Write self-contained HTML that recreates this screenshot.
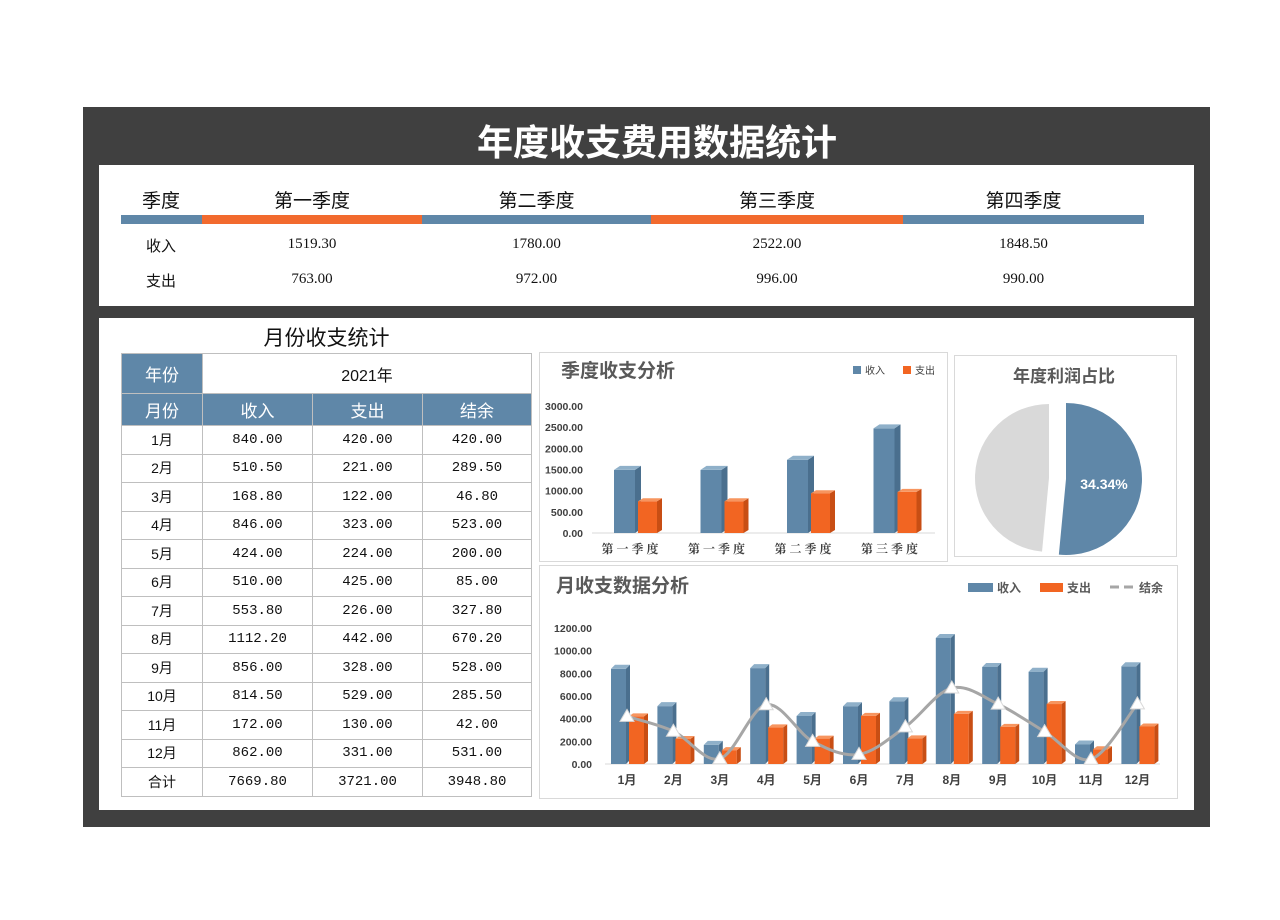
<!DOCTYPE html>
<html><head><meta charset="utf-8"><style>
body{margin:0;background:#fff;width:1280px;height:920px;position:relative;overflow:hidden;font-family:"Liberation Sans","Noto Sans CJK SC",sans-serif}
.a{position:absolute}
.c{position:absolute;text-align:center;font-family:"Liberation Serif","Noto Serif CJK SC",serif;font-size:15px;color:#111}
.tb{position:absolute;border-collapse:collapse;left:121px;top:353px;width:411px}
.tb td{border:1px solid #bfbfbf;text-align:center;font-family:"Liberation Mono","Noto Sans CJK SC",monospace;font-size:14px;height:27.5px;padding:0;color:#111}
.tb td.h{background:#5f87a8;color:#fff;font-family:"Liberation Sans","Noto Sans CJK SC",sans-serif;font-size:17px}
.tb td.m{font-family:"Liberation Sans","Noto Sans CJK SC",sans-serif}
</style></head><body>
<div class="a" style="left:83px;top:107px;width:1127px;height:720px;background:#404040"></div>
<div class="a" style="left:83px;top:114px;width:1148px;text-align:center;color:#fff;font-size:36px;font-weight:bold;font-family:'Noto Sans CJK SC',sans-serif;line-height:52px">年度收支费用数据统计</div>
<div class="a" style="left:99px;top:165px;width:1095px;height:141px;background:#fff"></div>
<div class="a" style="left:99px;top:318px;width:1095px;height:492px;background:#fff"></div>
<div>
<div class="c" style="left:120px;top:186px;width:82px;font-size:19px;font-family:'Noto Sans CJK SC',sans-serif">季度</div>
<div class="c" style="left:202px;top:186px;width:220px;font-size:19px;font-family:'Noto Sans CJK SC',sans-serif">第一季度</div>
<div class="c" style="left:422px;top:186px;width:229px;font-size:19px;font-family:'Noto Sans CJK SC',sans-serif">第二季度</div>
<div class="c" style="left:651px;top:186px;width:252px;font-size:19px;font-family:'Noto Sans CJK SC',sans-serif">第三季度</div>
<div class="c" style="left:903px;top:186px;width:241px;font-size:19px;font-family:'Noto Sans CJK SC',sans-serif">第四季度</div>
</div>
<div class="a" style="left:121px;top:215px;width:81px;height:9px;background:#5f87a8"></div>
<div class="a" style="left:202px;top:215px;width:220px;height:9px;background:#f26a2e"></div>
<div class="a" style="left:422px;top:215px;width:229px;height:9px;background:#5f87a8"></div>
<div class="a" style="left:651px;top:215px;width:252px;height:9px;background:#f26a2e"></div>
<div class="a" style="left:903px;top:215px;width:241px;height:9px;background:#5f87a8"></div>
<div class="c" style="left:120px;top:235px;width:82px;font-family:'Noto Sans CJK SC',sans-serif">收入</div>
<div class="c" style="left:202px;top:236px;width:220px">1519.30</div>
<div class="c" style="left:422px;top:236px;width:229px">1780.00</div>
<div class="c" style="left:651px;top:236px;width:252px">2522.00</div>
<div class="c" style="left:903px;top:236px;width:241px">1848.50</div>
<div class="c" style="left:120px;top:270px;width:82px;font-family:'Noto Sans CJK SC',sans-serif">支出</div>
<div class="c" style="left:202px;top:271px;width:220px">763.00</div>
<div class="c" style="left:422px;top:271px;width:229px">972.00</div>
<div class="c" style="left:651px;top:271px;width:252px">996.00</div>
<div class="c" style="left:903px;top:271px;width:241px">990.00</div>

<div class="a" style="left:121px;top:322px;width:411px;text-align:center;font-size:21px;font-family:'Noto Sans CJK SC',sans-serif;color:#111">月份收支统计</div>
<table class="tb">
<tr style="height:40px"><td class="h" style="width:80px;height:39px">年份</td><td colspan="3" class="m" style="font-size:16px">2021年</td></tr>
<tr><td class="h" style="height:31px">月份</td><td class="h" style="width:109px">收入</td><td class="h" style="width:109px">支出</td><td class="h">结余</td></tr>
<tbody id="tbody"></tbody>
</table>

<div class="a" style="left:539px;top:352px;width:407px;height:208px;border:1px solid #d9d9d9"></div>
<div class="a" style="left:954px;top:355px;width:221px;height:200px;border:1px solid #d9d9d9"></div>
<div class="a" style="left:539px;top:565px;width:637px;height:232px;border:1px solid #d9d9d9"></div>
<svg class="a" style="left:0;top:0" width="1280" height="920" id="svg"></svg>
<script>
const months=['1月','2月','3月','4月','5月','6月','7月','8月','9月','10月','11月','12月'];
const monthIncome=[840,510.5,168.8,846,424,510,553.8,1112.2,856,814.5,172,862];
const monthExpense=[420,221,122,323,224,425,226,442,328,529,130,331];
const monthBalance=[420,289.5,46.8,523,200,85,327.8,670.2,528,285.5,42,531];
const totals=['7669.80','3721.00','3948.80'];
const qCats=['第一季度','第一季度','第二季度','第三季度'];
const qIncome=[1490,1490,1730,2470];
const qExpense=[750,750,940,970];
const qTicks=[0,500,1000,1500,2000,2500,3000];
const mTicks=[0,200,400,600,800,1000,1200];
const pieShares=[0.515,0.485];
const pieLabel='34.34%';

const tb=document.getElementById('tbody');
function f(v){return v.toFixed(2);}
months.forEach((m,i)=>{const tr=document.createElement('tr');


tr.innerHTML='<td class="m">'+m+'</td><td>'+f(monthIncome[i])+'</td><td>'+f(monthExpense[i])+'</td><td>'+f(monthBalance[i])+'</td>';tb.appendChild(tr);});
const tr=document.createElement('tr');


tr.innerHTML='<td class="m">合计</td><td>'+totals[0]+'</td><td>'+totals[1]+'</td><td>'+totals[2]+'</td>';tb.appendChild(tr);

const svg=document.getElementById('svg');const NS='http://www.w3.org/2000/svg';
function el(t,a,p){const e=document.createElementNS(NS,t);for(const k in a)e.setAttribute(k,a[k]);(p||svg).appendChild(e);return e;}
function txt(x,y,s,a){const e=el('text',Object.assign({x:x,y:y,'font-family':'Liberation Sans, Noto Sans CJK SC, sans-serif'},a));e.textContent=s;return e;}
const BL=['#5f87a8','#4a6f8e','#8fb0c9'],OR=['#f26522','#c84e14','#f7955f'];
function bar3d(x,w,y0,y1,c,dx,dy,name){const g=el('g',{});


el('rect',{x:x,y:y1,width:w,height:Math.max(0,y0-y1),fill:c[0]},g);
el('polygon',{points:`${x+w},${y1} ${x+w+dx},${y1+dy} ${x+w+dx},${y0+dy} ${x+w},${y0}`,fill:c[1]},g);
el('polygon',{points:`${x},${y1} ${x+dx},${y1+dy} ${x+w+dx},${y1+dy} ${x+w},${y1}`,fill:c[2]},g);}

// quarterly chart
(function(){const y0=533,y1=406,max=3000;const Y=v=>y0-(v/max)*(y0-y1);const X=i=>630+i*86.5;
const t=txt(561,377,'季度收支分析',{'font-size':19,'font-weight':'bold',fill:'#595959'});


el('rect',{x:853,y:366,width:8,height:8,fill:BL[0]});
txt(865,374,'收入',{'font-size':10,fill:'#404040'});
el('rect',{x:903,y:366,width:8,height:8,fill:OR[0]});
txt(915,374,'支出',{'font-size':10,fill:'#404040'});
qTicks.forEach(v=>{const l=txt(583,Y(v)+4,v.toFixed(2),{'font-size':10.5,'font-weight':'bold',fill:'#404040','text-anchor':'end'});

});
el('line',{x1:592,x2:935,y1:y0,y2:y0,stroke:'#d9d9d9'});
qCats.forEach((c,i)=>{const x=X(i);
bar3d(x-16,21,y0,Y(qIncome[i]),BL,6,-4,'quarter-income-bar');
bar3d(x+8,19,y0,Y(qExpense[i]),OR,5,-3,'quarter-expense-bar');
const l=txt(x,553,c.split('').join(' '),{'font-size':12,'font-weight':'bold',fill:'#404040','text-anchor':'middle','font-family':'Noto Serif CJK SC, serif'});

});})();

// pie
(function(){const t=txt(1064,382,'年度利润占比',{'font-size':17,'font-weight':'bold',fill:'#595959','text-anchor':'middle'});


let a0=0;const cols=['#5f87a8','#d9d9d9'];const cs=[[1066,479,76],[1049,478,74]];
pieShares.forEach((s,i)=>{const a1=a0+s*360;const [cx,cy,r]=cs[i];const p=a=>[cx+r*Math.sin(a*Math.PI/180),cy-r*Math.cos(a*Math.PI/180)];
const A=p(a0),B=p(a1);const e=el('path',{d:`M${cx},${cy} L${A[0]},${A[1]} A${r},${r} 0 ${s>0.5?1:0} 1 ${B[0]},${B[1]} Z`,fill:cols[i]});

a0=a1;});
const l=txt(1104,489,pieLabel,{'font-size':14,'font-weight':'bold',fill:'#fff','text-anchor':'middle'});

})();

// monthly
(function(){const y0=764,y1=628,max=1200;const Y=v=>y0-(v/max)*(y0-y1);const X=i=>627+i*46.4;
const t=txt(556,592,'月收支数据分析',{'font-size':19,'font-weight':'bold',fill:'#595959'});


el('rect',{x:968,y:583,width:25,height:9,fill:BL[0]});
txt(997,592,'收入',{'font-size':12,'font-weight':'bold',fill:'#595959'});
el('rect',{x:1040,y:583,width:23,height:9,fill:OR[0]});
txt(1067,592,'支出',{'font-size':12,'font-weight':'bold',fill:'#595959'});
el('line',{x1:1110,x2:1135,y1:587,y2:587,stroke:'#a6a6a6','stroke-width':3,'stroke-dasharray':'9,5'});
txt(1139,592,'结余',{'font-size':12,'font-weight':'bold',fill:'#595959'});
mTicks.forEach(v=>{const l=txt(592,Y(v)+4,v.toFixed(2),{'font-size':10.5,'font-weight':'bold',fill:'#404040','text-anchor':'end'});

});
el('line',{x1:605,x2:1160,y1:y0,y2:y0,stroke:'#d9d9d9'});
months.forEach((m,i)=>{const x=X(i);
bar3d(x-16,15,y0,Y(monthIncome[i]),BL,4,-4,'month-income-bar');
bar3d(x+2,15,y0,Y(monthExpense[i]),OR,4,-3,'month-expense-bar');
const l=txt(x,784,m,{'font-size':12,'font-weight':'bold',fill:'#404040','text-anchor':'middle'});

});
const P=monthBalance.map((v,i)=>[X(i),Y(v)]);let d=`M${P[0][0]},${P[0][1]}`;
for(let i=0;i<P.length-1;i++){const p0=P[i-1]||P[i],p1=P[i],p2=P[i+1],p3=P[i+2]||p2;
d+=` C${p1[0]+(p2[0]-p0[0])/6},${p1[1]+(p2[1]-p0[1])/6} ${p2[0]-(p3[0]-p1[0])/6},${p2[1]-(p3[1]-p1[1])/6} ${p2[0]},${p2[1]}`;}
const ln=el('path',{d:d,fill:'none',stroke:'#a6a6a6','stroke-width':3});


P.forEach(p=>{const m=el('polygon',{points:`${p[0]},${p[1]-7} ${p[0]-7},${p[1]+5} ${p[0]+7},${p[1]+5}`,fill:'#fff',stroke:'#d9d9d9'});

});})();
</script>
</body></html>
